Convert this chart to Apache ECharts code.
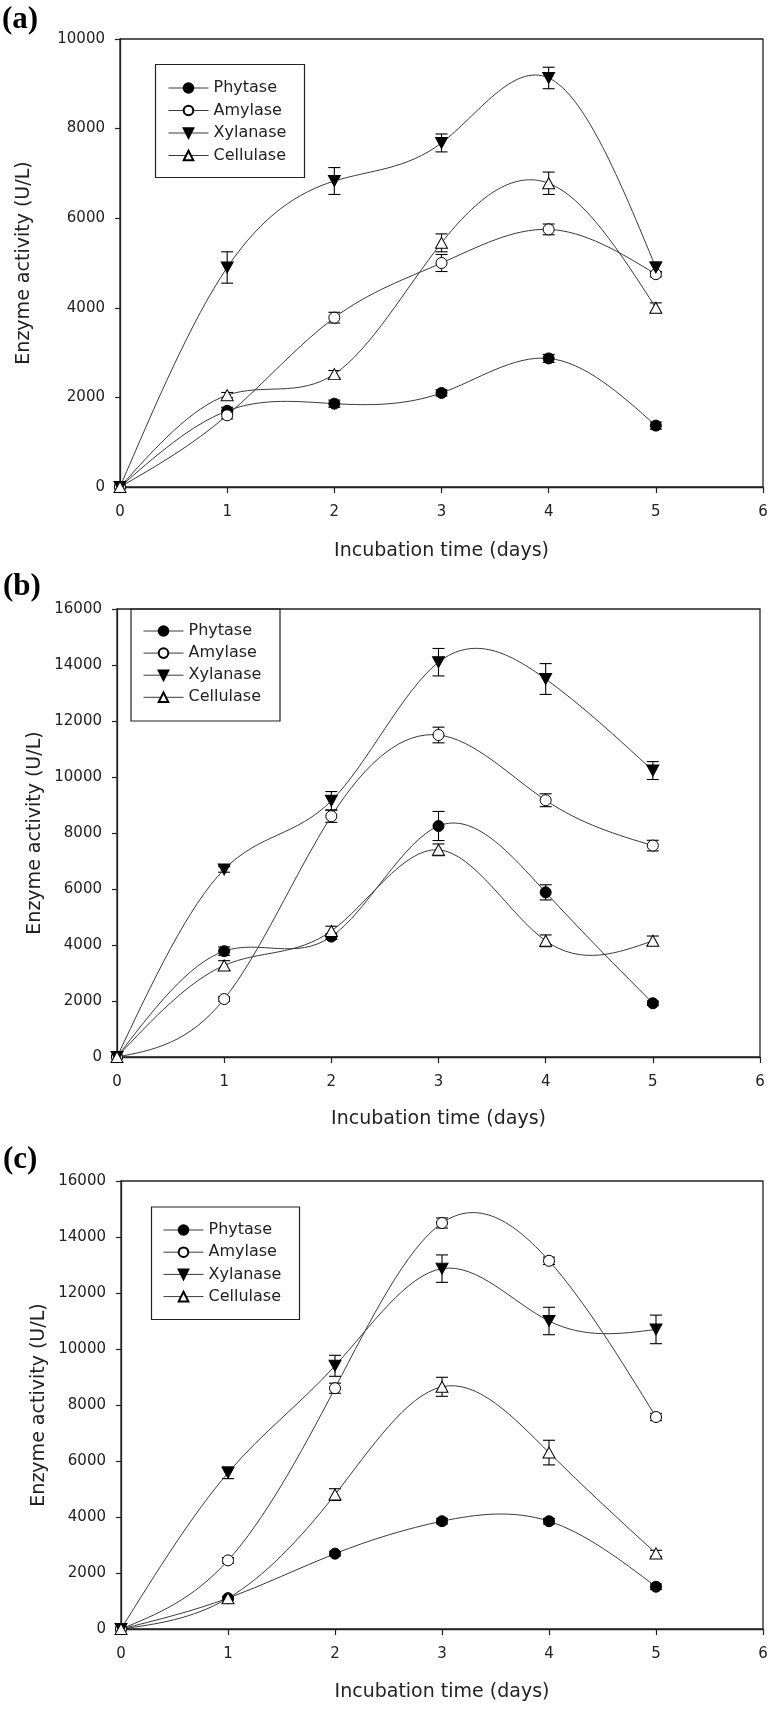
<!DOCTYPE html>
<html><head><meta charset="utf-8">
<script src="https://cdn.jsdelivr.net/npm/echarts@6/dist/echarts.min.js"></script>
<style>html,body{margin:0;padding:0;background:#fff}#c{width:774px;height:1710px}</style>
</head><body><div id="c"></div>
<script>
// ---- data ----
const days = [0, 1, 2, 3, 4, 5];
const seriesNames = ['Phytase', 'Amylase', 'Xylanase', 'Cellulase'];
const panelLabels = ['(a)', '(b)', '(c)'];
const xAxisTitle = 'Incubation time (days)';
const yAxisTitle = 'Enzyme activity (U/L)';

// panel (a)
const phytaseA   = [0, 1700, 1860, 2100, 2870, 1370];
const amylaseA   = [0, 1600, 3780, 5000, 5750, 4750];
const xylanaseA  = [0, 4900, 6830, 7680, 9130, 4900];
const cellulaseA = [0, 2050, 2520, 5450, 6780, 4000];
const phytaseErrA   = [0, 80, 80, 70, 90, 80];
const amylaseErrA   = [0, 80, 120, 190, 120, 60];
const xylanaseErrA  = [0, 350, 300, 200, 240, 120];
const cellulaseErrA = [0, 60, 80, 200, 250, 110];
const yMaxA = 10000;

// panel (b)
const phytaseB   = [0, 3780, 4300, 8250, 5880, 1920];
const amylaseB   = [0, 2070, 8600, 11500, 9170, 7550];
const xylanaseB  = [0, 6700, 9150, 14100, 13500, 10230];
const cellulaseB = [0, 3270, 4500, 7400, 4150, 4150];
const phytaseErrB   = [0, 150, 100, 520, 270, 80];
const amylaseErrB   = [0, 80, 220, 280, 230, 190];
const xylanaseErrB  = [0, 100, 330, 490, 550, 320];
const cellulaseErrB = [0, 170, 170, 210, 210, 170];
const yMaxB = 16000;

// panel (c)
const phytaseC   = [0, 1100, 2690, 3850, 3850, 1510];
const amylaseC   = [0, 2450, 8600, 14500, 13150, 7570];
const xylanaseC  = [0, 5580, 9400, 12870, 11000, 10700];
const cellulaseC = [0, 1100, 4800, 8650, 6300, 2700];
const phytaseErrC   = [0, 60, 80, 100, 100, 100];
const amylaseErrC   = [0, 100, 180, 180, 130, 130];
const xylanaseErrC  = [0, 210, 375, 490, 490, 510];
const cellulaseErrC = [0, 60, 210, 340, 440, 110];
const yMaxC = 16000;

const xMax = 6, xInterval = 1, yInterval = 2000;

// ---- layout / style ----
const FONT = 'DejaVu Sans';
const INK = '#222';
const CURVE = '#3a3a3a';
const layouts = [
  { grid: {left: 120, top: 39, width: 643, height: 448}, title: {left: 2, top: 4},
    legend: {left: 168, top: 80, gap: 6.5}, box: {x: 155.5, y: 64.5, w: 149, h: 113}, yGap: 86, xGap: 55 },
  { grid: {left: 117, top: 609, width: 643, height: 448}, title: {left: 3, top: 571},
    legend: {left: 143, top: 623, gap: 6.1}, box: {x: 131, y: 609, w: 149, h: 112}, yGap: 72, xGap: 53 },
  { grid: {left: 121, top: 1181, width: 642, height: 448}, title: {left: 3, top: 1144},
    legend: {left: 163, top: 1222, gap: 6.2}, box: {x: 151.5, y: 1207, w: 148, h: 112.5}, yGap: 72, xGap: 54 }
];

const panelData = [
  { vals: [phytaseA, amylaseA, xylanaseA, cellulaseA], errs: [phytaseErrA, amylaseErrA, xylanaseErrA, cellulaseErrA], yMax: yMaxA },
  { vals: [phytaseB, amylaseB, xylanaseB, cellulaseB], errs: [phytaseErrB, amylaseErrB, xylanaseErrB, cellulaseErrB], yMax: yMaxB },
  { vals: [phytaseC, amylaseC, xylanaseC, cellulaseC], errs: [phytaseErrC, amylaseErrC, xylanaseErrC, cellulaseErrC], yMax: yMaxC }
];

const downTri = 'path://M0,0 L12,0 L6,11 Z';
const symbolStyles = [
  { symbol: 'circle', symbolSize: 11, itemStyle: {color: '#000', borderColor: '#000', borderWidth: 1} },
  { symbol: 'circle', symbolSize: 11, itemStyle: {color: '#fff', borderColor: '#000', borderWidth: 1} },
  { symbol: downTri, symbolSize: [12, 11], itemStyle: {color: '#000', borderColor: '#000', borderWidth: 1} },
  { symbol: 'triangle', symbolSize: [12, 11], itemStyle: {color: '#fff', borderColor: '#000', borderWidth: 1} }
];

function errRender(params, api) {
  const x = api.value(0), y = api.value(1), e = api.value(2);
  const top = api.coord([x, y + e]);
  const bot = api.coord([x, y - e]);
  const cap = 6;
  const st = {stroke: '#000', lineWidth: 1.1};
  return { type: 'group', children: [
    {type: 'line', shape: {x1: top[0], y1: top[1], x2: bot[0], y2: bot[1]}, style: st},
    {type: 'line', shape: {x1: top[0] - cap, y1: top[1], x2: top[0] + cap, y2: top[1]}, style: st},
    {type: 'line', shape: {x1: bot[0] - cap, y1: bot[1], x2: bot[0] + cap, y2: bot[1]}, style: st}
  ]};
}

// natural cubic spline through the data points (drawn in pixel space via the axes)
function makeSplineRender(vals) {
  return function (params, api) {
    if (params.dataIndex !== 0) return null;
    const pts = days.map((d, j) => api.coord([d, vals[j]]));
    const n = pts.length;
    const h = [];
    for (let i = 0; i < n - 1; i++) h.push(pts[i + 1][0] - pts[i][0]);
    const a = [], b = [], c = [], r = [];
    for (let i = 1; i < n - 1; i++) {
      a.push(h[i - 1]); b.push(2 * (h[i - 1] + h[i])); c.push(h[i]);
      r.push(6 * ((pts[i + 1][1] - pts[i][1]) / h[i] - (pts[i][1] - pts[i - 1][1]) / h[i - 1]));
    }
    const m = b.length;
    for (let i = 1; i < m; i++) { const w = a[i] / b[i - 1]; b[i] -= w * c[i - 1]; r[i] -= w * r[i - 1]; }
    const sol = new Array(m);
    sol[m - 1] = r[m - 1] / b[m - 1];
    for (let i = m - 2; i >= 0; i--) sol[i] = (r[i] - c[i] * sol[i + 1]) / b[i];
    const M = new Array(n).fill(0);
    for (let i = 1; i < n - 1; i++) M[i] = sol[i - 1];
    const children = [];
    for (let i = 0; i < n - 1; i++) {
      const x0 = pts[i][0], y0 = pts[i][1], x1 = pts[i + 1][0], y1 = pts[i + 1][1], hh = h[i];
      const s = (y1 - y0) / hh;
      const d0 = s - hh * (2 * M[i] + M[i + 1]) / 6;
      const d1 = s + hh * (M[i] + 2 * M[i + 1]) / 6;
      children.push({
        type: 'bezierCurve',
        shape: {x1: x0, y1: y0, x2: x1, y2: y1, cpx1: x0 + hh / 3, cpy1: y0 + d0 * hh / 3, cpx2: x1 - hh / 3, cpy2: y1 - d1 * hh / 3},
        style: {stroke: CURVE, lineWidth: 1, fill: 'none'}
      });
    }
    return {type: 'group', children: children};
  };
}

const grids = [], xAxes = [], yAxes = [], series = [], legends = [], titles = [], graphics = [];
layouts.forEach((L, i) => {
  const P = panelData[i];
  grids.push(Object.assign({show: true, borderColor: INK, borderWidth: 1.3, backgroundColor: 'transparent'}, L.grid));
  xAxes.push({
    type: 'value', gridIndex: i, min: 0, max: xMax, interval: xInterval,
    name: xAxisTitle, nameLocation: 'middle', nameGap: L.xGap, nameMoveOverlap: false,
    nameTextStyle: {fontFamily: FONT, fontSize: 19, color: INK},
    axisLine: {show: true, lineStyle: {color: INK, width: 1.3}},
    axisTick: {show: true, inside: false, length: 6, lineStyle: {color: INK, width: 1.2}},
    axisLabel: {fontFamily: FONT, fontSize: 15, color: INK, margin: 18, formatter: v => String(v)},
    splitLine: {show: false}
  });
  yAxes.push({
    type: 'value', gridIndex: i, min: 0, max: P.yMax, interval: yInterval,
    name: yAxisTitle, nameLocation: 'middle', nameGap: L.yGap, nameRotate: 90, nameMoveOverlap: false,
    nameTextStyle: {fontFamily: FONT, fontSize: 19, color: INK},
    axisLine: {show: true, lineStyle: {color: INK, width: 1.3}},
    axisTick: {show: true, inside: false, length: 5, lineStyle: {color: INK, width: 1.2}},
    axisLabel: {fontFamily: FONT, fontSize: 15, color: INK, margin: 15, formatter: v => String(v)},
    splitLine: {show: false}
  });
  seriesNames.forEach((name, k) => {
    const vals = P.vals[k], errs = P.errs[k];
    series.push({
      type: 'custom', name: name + ' error ' + i, xAxisIndex: i, yAxisIndex: i,
      renderItem: errRender, z: 2, silent: true, clip: false,
      data: days.filter((d, j) => errs[j] > 0).map(d => [d, vals[days.indexOf(d)], errs[days.indexOf(d)]])
    });
    series.push({
      type: 'custom', name: name + ' curve ' + i, xAxisIndex: i, yAxisIndex: i,
      renderItem: makeSplineRender(vals), z: 2, silent: true, clip: false,
      data: days.map((d, j) => [d, vals[j]])
    });
    series.push(Object.assign({
      type: 'line', name: name, xAxisIndex: i, yAxisIndex: i,
      data: days.map((d, j) => [d, vals[j]]),
      showAllSymbol: true, z: 3,
      lineStyle: {color: CURVE, width: 1, opacity: 0}
    }, symbolStyles[k]));
  });
  legends.push({
    data: seriesNames, orient: 'vertical', left: L.legend.left, top: L.legend.top,
    itemWidth: 40, itemHeight: 12, itemGap: L.legend.gap, itemTextGap: 11, padding: 0,
    selectedMode: false,
    lineStyle: {color: CURVE, width: 1, opacity: 1},
    textStyle: {fontFamily: FONT, fontSize: 16, lineHeight: 16, color: INK}
  });
  titles.push({
    text: panelLabels[i], left: L.title.left, top: L.title.top, padding: 0,
    textStyle: {fontFamily: 'Liberation Serif', fontWeight: 'bold', fontSize: 31, color: '#000'}
  });
  graphics.push({
    type: 'rect', shape: {x: L.box.x, y: L.box.y, width: L.box.w, height: L.box.h},
    style: {fill: 'none', stroke: INK, lineWidth: 1.2}, z: 100, silent: true
  });
});

const chart = echarts.init(document.getElementById('c'), null, {renderer: 'canvas'});
chart.setOption({
  animation: false,
  backgroundColor: '#fff',
  title: titles,
  grid: grids,
  xAxis: xAxes,
  yAxis: yAxes,
  legend: legends,
  graphic: graphics,
  series: series
});
</script>
</body></html>
